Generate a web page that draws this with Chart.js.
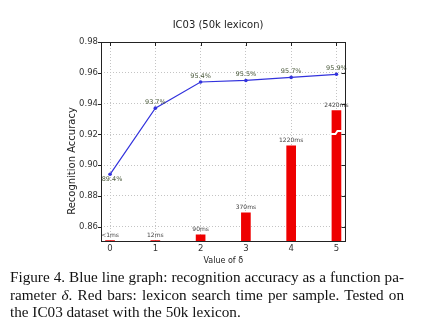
<!DOCTYPE html>
<html lang="en">
<head>
<meta charset="UTF-8">
<title>IC03 (50k lexicon)</title>
<script src="https://cdn.jsdelivr.net/npm/chart.js@4"></script>
<style>
    html, body { margin: 0; padding: 0; background: #fff; }
    #wrap { position: relative; width: 422px; height: 335px; overflow: hidden; }
    #chart { position: absolute; left: 0; top: 0; }
    #caption {
        position: absolute; left: 10px; top: 268px; width: 394px;
        font-family: "Liberation Serif", serif; font-size: 15.2px; line-height: 17.6px; color: #111;
    }
    #caption .j { text-align: justify; text-align-last: justify; }
</style>
</head>
<body>
<div id="wrap">
    <canvas id="chart" width="422" height="270"></canvas>
    <div id="caption">
        <div class="j">Figure 4. Blue line graph: recognition accuracy as a function pa-</div>
        <div class="j">rameter <i>δ</i>. Red bars: lexicon search time per sample. Tested on</div>
        <div>the IC03 dataset with the 50k lexicon.</div>
    </div>
</div>
<script>
    var deltas = [0, 1, 2, 3, 4, 5];
    var accuracy = [0.894, 0.937, 0.954, 0.955, 0.957, 0.959];   // 인식 정확도
    var searchMs = [0.5, 12, 90, 370, 1220, 2420];                // 샘플당 탐색 시간(ms)
    var timeLabels = ['<1ms', '12ms', '90ms', '370ms', '1220ms', '2420ms'];
    var yTicks = [0.86, 0.88, 0.90, 0.92, 0.94, 0.96, 0.98];

    var timeMax = 2540;   // 시간 축 상한
    var barCap = 1670;    // 이 값 위로는 막대를 잘라서 그림
    var breakAt = 1390;   // 잘린 막대의 끊김 표시 위치

    Chart.defaults.font.family = 'DejaVu Sans';

    // 값 라벨, 테두리, 눈금, 끊김 표시
    var decorPlugin = {
        id: 'decor',
        afterDatasetsDraw: function(chart) {
            var ctx = chart.ctx;
            var a = chart.chartArea;
            var xs = chart.scales.x, ys = chart.scales.y, ts = chart.scales.t;

            // 잘린 막대 끊김 표시
            searchMs.forEach(function(t, i) {
                if (t <= barCap) return;
                var px = xs.getPixelForValue(deltas[i]);
                var py = ts.getPixelForValue(breakAt);
                ctx.save();
                ctx.strokeStyle = '#fff';
                ctx.lineWidth = 2;
                ctx.beginPath();
                ctx.moveTo(px - 7, py + 1.5);
                ctx.lineTo(px - 1, py + 1.5);
                ctx.lineTo(px + 1, py - 1.5);
                ctx.lineTo(px + 7, py - 1.5);
                ctx.stroke();
                ctx.restore();
            });

            ctx.save();
            ctx.textAlign = 'center';
            ctx.textBaseline = 'middle';

            // 정확도 라벨
            ctx.font = '6.5px "DejaVu Sans"';
            ctx.fillStyle = '#4b5a3c';
            var linePts = chart.getDatasetMeta(0).data;
            accuracy.forEach(function(v, i) {
                var p = linePts[i];
                var dy = i === 0 ? 5 : -6;
                ctx.fillText((v * 100).toFixed(1) + '%', p.x + (i === 0 ? 2 : 0), p.y + dy);
            });

            // 시간 라벨
            ctx.font = '6px "DejaVu Sans"';
            ctx.fillStyle = '#444';
            var bars = chart.getDatasetMeta(1).data;
            timeLabels.forEach(function(txt, i) {
                var b = bars[i];
                ctx.fillText(txt, b.x, b.y - 5);
            });

            // 테두리
            ctx.strokeStyle = '#222';
            ctx.lineWidth = 1;
            ctx.strokeRect(Math.round(a.left) + 0.5, Math.round(a.top) + 0.5,
                Math.round(a.right - a.left) - 1, Math.round(a.bottom - a.top) - 1);

            // 눈금: 왼쪽은 바깥, 위/오른쪽은 안쪽
            ctx.beginPath();
            yTicks.forEach(function(v) {
                var py = Math.round(ys.getPixelForValue(v)) + 0.5;
                ctx.moveTo(a.left - 3, py);
                ctx.lineTo(a.left, py);
                ctx.moveTo(a.right - 4, py);
                ctx.lineTo(a.right, py);
            });
            deltas.forEach(function(v) {
                var px = Math.round(xs.getPixelForValue(v)) + 0.5;
                ctx.moveTo(px, a.top);
                ctx.lineTo(px, a.top + 4);
            });
            ctx.stroke();

            // y축 제목
            ctx.translate(72, 161);
            ctx.rotate(-Math.PI / 2);
            ctx.font = '10px "DejaVu Sans"';
            ctx.fillStyle = '#222';
            ctx.fillText('Recognition Accuracy', 0, 0);
            ctx.restore();
        }
    };

    var ctx = document.getElementById('chart').getContext('2d');

    new Chart(ctx, {
        type: 'bar',
        data: {
            datasets: [{
                type: 'line',
                label: 'accuracy',
                data: deltas.map(function(d, i) { return {x: d, y: accuracy[i]}; }),
                yAxisID: 'y',
                borderColor: '#3333dd',
                backgroundColor: '#3333dd',
                borderWidth: 1.2,
                pointRadius: 1.8,
                pointBorderWidth: 0,
                tension: 0,
                order: 1
            }, {
                label: 'search time',
                data: deltas.map(function(d, i) { return {x: d, y: Math.min(searchMs[i], barCap)}; }),
                yAxisID: 't',
                backgroundColor: '#ee0000',
                borderWidth: 0,
                barThickness: 9,
                minBarLength: 1.5,
                order: 2
            }]
        },
        options: {
            responsive: false,
            animation: false,
            layout: { padding: { left: 14, right: 0, top: 0, bottom: 0 } },
            plugins: {
                legend: { display: false },
                tooltip: { enabled: false },
                title: {
                    display: true,
                    text: 'IC03 (50k lexicon)',
                    color: '#222',
                    font: { size: 10, weight: 'normal' },
                    padding: { top: 19, bottom: 11 }
                }
            },
            scales: {
                x: {
                    type: 'linear',
                    min: -0.2,
                    max: 5.2,
                    offset: false,
                    afterBuildTicks: function(s) {
                        s.ticks = deltas.map(function(v) { return {value: v}; });
                    },
                    afterFit: function(s) { s.height = 28; },
                    ticks: { color: '#333', font: { size: 8.5 }, padding: 2 },
                    grid: { color: '#c4c4c4', drawTicks: false, offset: false },
                    border: { display: false, dash: [1, 2] },
                    title: {
                        display: true,
                        text: 'Value of δ',
                        color: '#222',
                        font: { size: 8 },
                        padding: { top: 0, bottom: 4 }
                    }
                },
                y: {
                    type: 'linear',
                    position: 'left',
                    min: 0.85,
                    max: 0.98,
                    afterBuildTicks: function(s) {
                        s.ticks = yTicks.map(function(v) { return {value: v}; });
                    },
                    afterFit: function(s) { s.width = 87; },
                    ticks: {
                        color: '#333',
                        font: { size: 8.5 },
                        padding: 3,
                        callback: function(v) { return v.toFixed(2); }
                    },
                    grid: { color: '#c4c4c4', drawTicks: false },
                    border: { display: false, dash: [1, 2] }
                },
                t: {
                    type: 'linear',
                    position: 'right',
                    min: 0,
                    max: timeMax,
                    afterFit: function(s) { s.width = 76.5; },
                    ticks: { display: false },
                    grid: { display: false },
                    border: { display: false }
                }
            }
        },
        plugins: [decorPlugin]
    });
</script>
</body>
</html>
